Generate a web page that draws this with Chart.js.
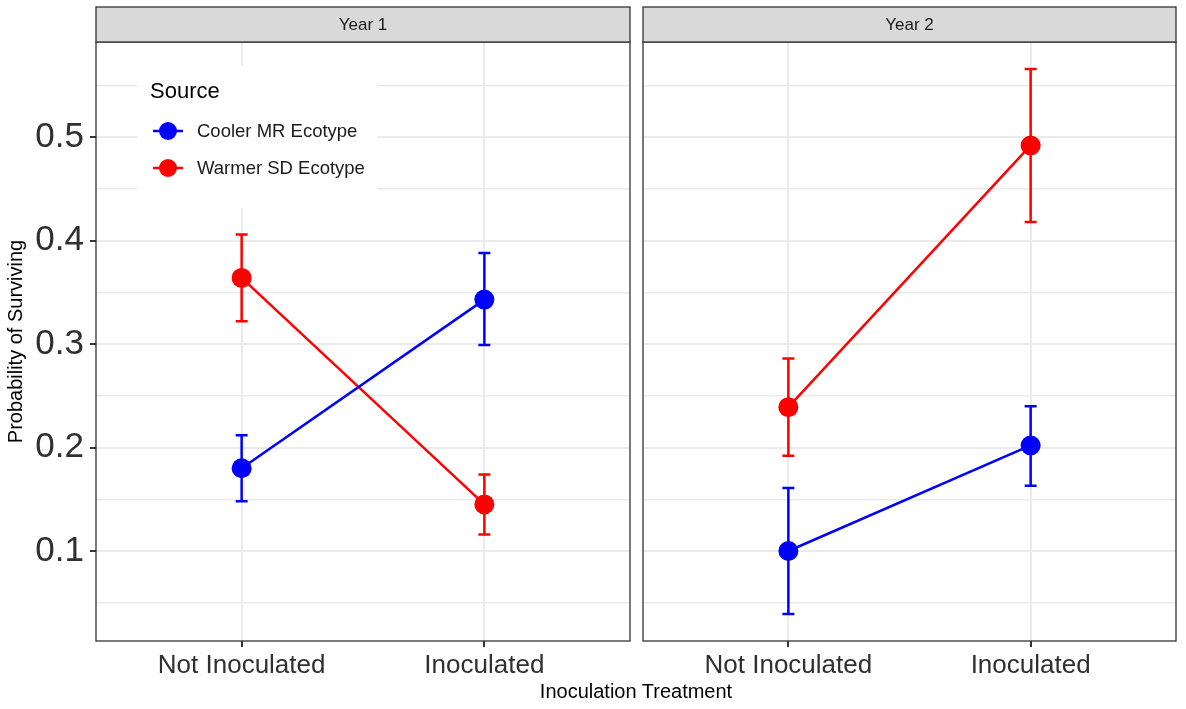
<!DOCTYPE html>
<html>
<head>
<meta charset="utf-8">
<script src="https://cdn.jsdelivr.net/npm/chart.js@4.4.1/dist/chart.umd.min.js"></script>
<style>
  body { margin: 0; background: #fff; }
  #wrap { position: relative; width: 1186px; height: 709px; font-family: "Liberation Sans", Arial, sans-serif; }
  canvas { position: absolute; top: 0; }
  #c1 { left: 0; }
  #c2 { left: 633px; }
  #xtitle { position: absolute; left: 0; width: 1272px; top: 680px; text-align: center; font-size: 20px; color: #000; }
</style>
</head>
<body>
<div id="wrap">
  <canvas id="c1" width="640" height="709"></canvas>
  <canvas id="c2" width="553" height="709"></canvas>
  <div id="xtitle">Inoculation Treatment</div>
</div>
<script>
// categories and facets
const categories = ["Not Inoculated", "Inoculated"];
const years = ["Year 1", "Year 2"];
const seriesNames = ["Cooler MR Ecotype", "Warmer SD Ecotype"];
const seriesColors = ["#0000FF", "#FF0000"];

// Year 1 estimates and error bars
const coolerY1 = [0.180, 0.343];
const coolerY1Lo = [0.148, 0.299];
const coolerY1Hi = [0.212, 0.388];
const warmerY1 = [0.364, 0.145];
const warmerY1Lo = [0.322, 0.116];
const warmerY1Hi = [0.406, 0.174];

// Year 2 estimates and error bars
const coolerY2 = [0.100, 0.202];
const coolerY2Lo = [0.039, 0.163];
const coolerY2Hi = [0.161, 0.240];
const warmerY2 = [0.239, 0.492];
const warmerY2Lo = [0.192, 0.418];
const warmerY2Hi = [0.286, 0.566];

// y gridlines (major every 0.1, minor in between)
const yTicks = [0.05, 0.1, 0.15, 0.2, 0.25, 0.3, 0.35, 0.4, 0.45, 0.5, 0.55];
const yMin = 0.013;
const yMax = 0.592;

const isMajor = (v) => Math.round(v * 100) % 10 === 0;

const toPoints = (vals) => vals.map((v, i) => ({ x: i + 1, y: v }));

// draws the panel frame, the strip on top and the error bars
const panelPlugin = {
  id: "panel",
  beforeDatasetsDraw(chart, args, opts) {
    const ctx = chart.ctx;
    const xs = chart.scales.x;
    const ys = chart.scales.y;

    // legend box (year 1 only)
    if (opts.legend) {
      ctx.save();
      ctx.fillStyle = "#fff";
      ctx.fillRect(137, 66, 240, 142);
      ctx.fillStyle = "#000";
      ctx.font = "22px 'Liberation Sans', Arial";
      ctx.textBaseline = "middle";
      ctx.fillText("Source", 150, 92);
      ctx.font = "18.5px 'Liberation Sans', Arial";
      seriesNames.forEach((name, i) => {
        const y = 131 + i * 37;
        ctx.strokeStyle = seriesColors[i];
        ctx.lineWidth = 2.5;
        ctx.beginPath();
        ctx.moveTo(153, y);
        ctx.lineTo(183, y);
        ctx.stroke();
        ctx.fillStyle = seriesColors[i];
        ctx.beginPath();
        ctx.arc(168, y, 9, 0, Math.PI * 2);
        ctx.fill();
        ctx.fillStyle = "#1a1a1a";
        ctx.fillText(name, 197, y + 1);
      });
      ctx.restore();
    }

    // error bars
    ctx.save();
    opts.errors.forEach((err, s) => {
      ctx.strokeStyle = seriesColors[s];
      ctx.lineWidth = 2.5;
      err.lo.forEach((lo, i) => {
        const px = xs.getPixelForValue(i + 1);
        const y0 = ys.getPixelForValue(lo);
        const y1 = ys.getPixelForValue(err.hi[i]);
        ctx.beginPath();
        ctx.moveTo(px, y0);
        ctx.lineTo(px, y1);
        ctx.moveTo(px - 6, y0);
        ctx.lineTo(px + 6, y0);
        ctx.moveTo(px - 6, y1);
        ctx.lineTo(px + 6, y1);
        ctx.stroke();
      });
    });
    ctx.restore();
  },
  afterDraw(chart, args, opts) {
    const ctx = chart.ctx;
    const area = chart.chartArea;
    ctx.save();
    // panel border
    ctx.strokeStyle = "#333";
    ctx.lineWidth = 1.3;
    ctx.strokeRect(area.left, area.top, area.right - area.left, area.bottom - area.top);
    // strip
    ctx.fillStyle = "#D9D9D9";
    ctx.fillRect(area.left, 7, area.right - area.left, area.top - 7);
    ctx.strokeRect(area.left, 7, area.right - area.left, area.top - 7);
    ctx.fillStyle = "#1a1a1a";
    ctx.font = "17px 'Liberation Sans', Arial";
    ctx.textAlign = "center";
    ctx.textBaseline = "middle";
    ctx.fillText(opts.title, (area.left + area.right) / 2, (7 + area.top) / 2 + 1);
    // y axis title
    if (opts.yTitle) {
      ctx.fillStyle = "#000";
      ctx.font = "20px 'Liberation Sans', Arial";
      ctx.translate(16, (area.top + area.bottom) / 2);
      ctx.rotate(-Math.PI / 2);
      ctx.fillText(opts.yTitle, 0, 0);
    }
    ctx.restore();
  },
};

function makePanel(canvasId, yearIdx, cooler, warmer, errors, showY) {
  return new Chart(document.getElementById(canvasId), {
    type: "line",
    data: {
      datasets: [
        {
          label: seriesNames[0],
          data: toPoints(cooler),
          borderColor: seriesColors[0],
          backgroundColor: seriesColors[0],
          pointBackgroundColor: seriesColors[0],
          borderWidth: 2.5,
          pointRadius: 10,
          pointBorderWidth: 0,
        },
        {
          label: seriesNames[1],
          data: toPoints(warmer),
          borderColor: seriesColors[1],
          backgroundColor: seriesColors[1],
          pointBackgroundColor: seriesColors[1],
          borderWidth: 2.5,
          pointRadius: 10,
          pointBorderWidth: 0,
        },
      ],
    },
    options: {
      responsive: false,
      animation: false,
      layout: { padding: { top: 42, right: 8, left: 0, bottom: 0 } },
      plugins: {
        legend: { display: false },
        tooltip: { enabled: false },
        panel: {
          title: years[yearIdx],
          legend: showY,
          yTitle: showY ? "Probability of Surviving" : null,
          errors: errors,
        },
      },
      scales: {
        x: {
          type: "linear",
          min: 0.4,
          max: 2.6,
          afterFit: (s) => { s.height = 68; },
          afterBuildTicks: (s) => { s.ticks = categories.map((c, i) => ({ value: i + 1 })); },
          border: { display: false },
          grid: { color: "#EBEBEB", lineWidth: 2, tickColor: "#333", tickLength: 6 },
          ticks: {
            padding: 3,
            color: "#303030",
            font: { size: 26, family: "'Liberation Sans', Arial" },
            maxRotation: 0,
            callback: (v) => categories[Math.round(v) - 1],
          },
        },
        y: {
          min: yMin,
          max: yMax,
          afterFit: (s) => { s.width = showY ? 96 : 4; },
          afterBuildTicks: (s) => { s.ticks = yTicks.map((v) => ({ value: v })); },
          border: { display: false },
          grid: {
            color: "#EBEBEB",
            lineWidth: (c) => (c.tick && isMajor(c.tick.value) ? 2 : 1.5),
            drawTicks: showY,
            tickColor: (c) => (c.tick && isMajor(c.tick.value) ? "#333" : "rgba(0,0,0,0)"),
            tickLength: 6,
          },
          ticks: {
            display: showY,
            padding: 6,
            color: "#303030",
            font: { size: 35, family: "'Liberation Sans', Arial" },
            callback: (v) => (isMajor(v) ? v.toFixed(1) : ""),
          },
        },
      },
    },
    plugins: [panelPlugin],
  });
}

makePanel("c1", 0, coolerY1, warmerY1, [
  { lo: coolerY1Lo, hi: coolerY1Hi },
  { lo: warmerY1Lo, hi: warmerY1Hi },
], true);

makePanel("c2", 1, coolerY2, warmerY2, [
  { lo: coolerY2Lo, hi: coolerY2Hi },
  { lo: warmerY2Lo, hi: warmerY2Hi },
], false);
</script>
</body>
</html>
